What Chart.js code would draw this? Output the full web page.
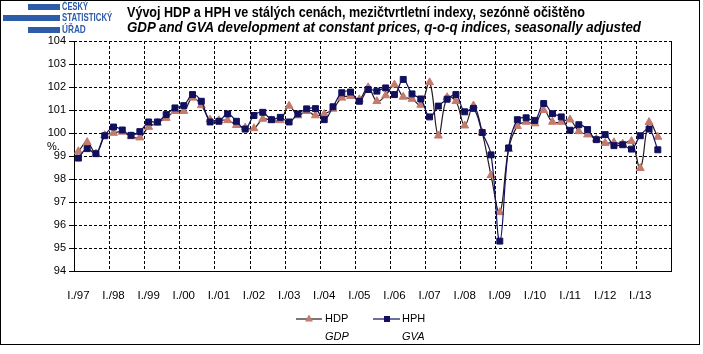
<!DOCTYPE html>
<html>
<head>
<meta charset="utf-8">
<title>HDP a HPH</title>
<script src="https://cdn.jsdelivr.net/npm/chart.js@4.4.1/dist/chart.umd.min.js"></script>
<style>
    body { margin: 0; background: #fff; }
    #wrap { position: relative; width: 703px; height: 354px; overflow: hidden; background: #fff; }
    #frame { position: absolute; left: 0; top: 0; width: 698px; height: 343px; border: 1px solid #000; pointer-events: none; }
    #chart { position: absolute; left: 0; top: 0; }
    .logo-bar { position: absolute; background: #2d5ca8; height: 6px; }
    .logo-txt { position: absolute; left: 62px; color: #2d5ca8; font: bold 11px "Liberation Sans Narrow", "Liberation Sans", Arial, sans-serif; line-height: 11px; white-space: nowrap; transform-origin: 0 0; }
    .title { position: absolute; left: 127px; white-space: nowrap; font-family: "Liberation Sans Narrow", "Liberation Sans", Arial, sans-serif; font-weight: bold; font-size: 14px; line-height: 14px; transform-origin: 0 0; color: #000; }
</style>
</head>
<body>
<div id="wrap">
    <canvas id="chart" width="703" height="354"></canvas>
    <div class="logo-bar" style="left:28px; top:4px; width:32px;"></div>
    <div class="logo-bar" style="left:3px; top:15px; width:57px;"></div>
    <div class="logo-bar" style="left:28px; top:27px; width:32px;"></div>
    <div class="logo-txt" id="logo1" style="top:1px;">ČESKÝ</div>
    <div class="logo-txt" id="logo2" style="top:12px;">STATISTICKÝ</div>
    <div class="logo-txt" id="logo3" style="top:24px;">ÚŘAD</div>
    <div class="title" id="title1" style="top:5px;">Vývoj HDP a HPH ve stálých cenách, mezičtvrtletní indexy, sezónně očištěno</div>
    <div class="title" id="title2" style="top:20px; font-style:italic;">GDP and GVA development at constant prices, q-o-q indices, seasonally adjusted</div>
    <div id="frame"></div>
</div>
<script>
// quarters I/97 .. IV/13
const years = ['97', '98', '99', '00', '01', '02', '03', '04', '05', '06', '07', '08', '09', '10', '11', '12', '13'];
const quarters = ['I.', 'II.', 'III.', 'IV.'];

const hdp = [
    99.2, 99.6, 99.1, 99.9, 100.0, 100.05, 99.85, 99.8,
    100.26, 100.44, 100.65, 100.95, 100.95, 101.53, 101.2, 100.58,
    100.55, 100.55, 100.34, 100.23, 100.2, 100.61, 100.55, 100.55,
    101.18, 100.76, 100.95, 100.76, 100.82, 101.05, 101.53, 101.6,
    101.46, 101.98, 101.38, 101.63, 102.1, 101.57, 101.48, 101.22,
    102.2, 99.88, 101.55, 101.38, 100.32, 101.19, 100.02, 98.16,
    96.55, 99.3, 100.3, 100.48, 100.41, 100.99, 100.48, 100.48,
    100.58, 100.07, 99.93, 99.74, 99.56, 99.59, 99.53, 99.64,
    98.47, 100.47, 99.83
];

const hph = [
    98.91, 99.32, 99.1, 99.88, 100.26, 100.13, 99.9, 100.06,
    100.48, 100.48, 100.8, 101.09, 101.19, 101.67, 101.38, 100.48,
    100.51, 100.83, 100.51, 100.17, 100.76, 100.9, 100.58, 100.68,
    100.48, 100.83, 101.05, 101.06, 100.58, 101.14, 101.75, 101.78,
    101.38, 101.89, 101.82, 101.96, 101.67, 102.33, 101.7, 101.48,
    100.7, 101.17, 101.47, 101.67, 100.92, 101.07, 100.02, 99.05,
    95.3, 99.35, 100.58, 100.66, 100.55, 101.28, 100.84, 100.7,
    100.12, 100.36, 100.15, 99.71, 99.93, 99.45, 99.49, 99.3,
    99.88, 100.17, 99.27
];

const categories = [];
years.forEach(y => quarters.forEach(q => categories.push(q + '/' + y)));

const hdpColor = '#c47a6c';
const hphColor = '#10105e';
const font = 'Arial, "Liberation Sans", sans-serif';

// squeeze a text line to the width it has in the original
function fitWidth(id, width) {
    const el = document.getElementById(id);
    const w = el.offsetWidth;
    if (w > 0) el.style.transform = 'scaleX(' + (width / w) + ')';
}
fitWidth('title1', 458);
fitWidth('title2', 514);
fitWidth('logo1', 26);
fitWidth('logo2', 50);
fitWidth('logo3', 24);

// dashed grid, one vertical line per year
const gridPlugin = {
    id: 'gridPlugin',
    beforeDatasetsDraw(chart) {
        const ctx = chart.ctx;
        const area = chart.chartArea;
        const xs = chart.scales.x;
        const ys = chart.scales.y;
        const half = (xs.getPixelForValue(1) - xs.getPixelForValue(0)) / 2;
        ctx.save();
        ctx.strokeStyle = '#000';
        ctx.lineWidth = 1;
        ctx.setLineDash([3, 2]);
        ctx.beginPath();
        ys.ticks.forEach(t => {
            if (t.value === ys.min) return;
            const py = Math.round(ys.getPixelForValue(t.value)) + 0.5;
            ctx.moveTo(area.left, py);
            ctx.lineTo(area.right, py);
        });
        for (let i = 4; i < categories.length; i += 4) {
            const px = Math.round(xs.getPixelForValue(i) - half) + 0.5;
            ctx.moveTo(px, area.top);
            ctx.lineTo(px, area.bottom);
        }
        ctx.stroke();
        ctx.restore();
    },
    afterDraw(chart) {
        const ctx = chart.ctx;
        const area = chart.chartArea;
        ctx.save();
        ctx.strokeStyle = '#000';
        ctx.lineWidth = 1;
        ctx.setLineDash([]);
        ctx.beginPath();
        ctx.moveTo(Math.round(area.right) + 0.5, area.top);
        ctx.lineTo(Math.round(area.right) + 0.5, area.bottom);
        ctx.stroke();

        ctx.fillStyle = '#000';
        ctx.font = '11px ' + font;
        ctx.textBaseline = 'middle';
        ctx.textAlign = 'left';
        ctx.fillText('%.', 47, 147);

        // legend
        const y = 319;
        ctx.strokeStyle = '#2a1a1a';
        ctx.lineWidth = 1.2;
        ctx.beginPath();
        ctx.moveTo(296, y);
        ctx.lineTo(322, y);
        ctx.stroke();
        ctx.fillStyle = hdpColor;
        ctx.beginPath();
        ctx.moveTo(309, y - 4.5);
        ctx.lineTo(313, y + 2.5);
        ctx.lineTo(305, y + 2.5);
        ctx.closePath();
        ctx.fill();

        ctx.strokeStyle = hphColor;
        ctx.beginPath();
        ctx.moveTo(373, y);
        ctx.lineTo(400, y);
        ctx.stroke();
        ctx.fillStyle = hphColor;
        ctx.fillRect(384, y - 3, 6, 6);

        ctx.fillStyle = '#000';
        ctx.font = '11px ' + font;
        ctx.fillText('HDP', 325, y);
        ctx.fillText('HPH', 402, y);
        ctx.font = 'italic 11px ' + font;
        ctx.fillText('GDP', 325, 337);
        ctx.fillText('GVA', 402, 337);
        ctx.restore();
    }
};

new Chart(document.getElementById('chart'), {
    type: 'line',
    data: {
        labels: categories,
        datasets: [
            {
                label: 'HDP',
                data: hdp,
                borderColor: '#2a1a1a',
                borderWidth: 1.2,
                tension: 0.4,
                pointStyle: 'triangle',
                pointRadius: 4.6,
                pointBackgroundColor: hdpColor,
                pointBorderColor: hdpColor,
                pointBorderWidth: 1,
                order: 1
            },
            {
                label: 'HPH',
                data: hph,
                borderColor: hphColor,
                borderWidth: 1.2,
                tension: 0.4,
                pointStyle: 'rect',
                pointRadius: 4.2,
                pointBackgroundColor: hphColor,
                pointBorderColor: hphColor,
                pointBorderWidth: 1,
                order: 0
            }
        ]
    },
    options: {
        responsive: false,
        animation: false,
        layout: { padding: { left: 0, right: 32, top: 41, bottom: 0 } },
        plugins: {
            legend: { display: false },
            tooltip: { enabled: false }
        },
        scales: {
            x: {
                offset: true,
                afterFit(scale) { scale.height = 83; },
                grid: { display: false },
                border: { display: true, color: '#000', width: 1 },
                ticks: {
                    autoSkip: false,
                    maxRotation: 0,
                    padding: 10,
                    color: '#000',
                    font: { family: font, size: 11.5 },
                    callback: function (value, index) {
                        return index % 4 === 0 ? this.getLabelForValue(value) : '';
                    }
                }
            },
            y: {
                min: 94,
                max: 104,
                afterFit(scale) { scale.width = 74; },
                grid: {
                    color: 'rgba(0,0,0,0)',
                    lineWidth: 1,
                    tickLength: 5,
                    tickColor: '#000',
                    tickWidth: 1
                },
                border: { display: true, color: '#000', width: 1 },
                ticks: {
                    stepSize: 1,
                    padding: 3,
                    color: '#000',
                    font: { family: font, size: 11 }
                }
            }
        }
    },
    plugins: [gridPlugin]
});
</script>
</body>
</html>
